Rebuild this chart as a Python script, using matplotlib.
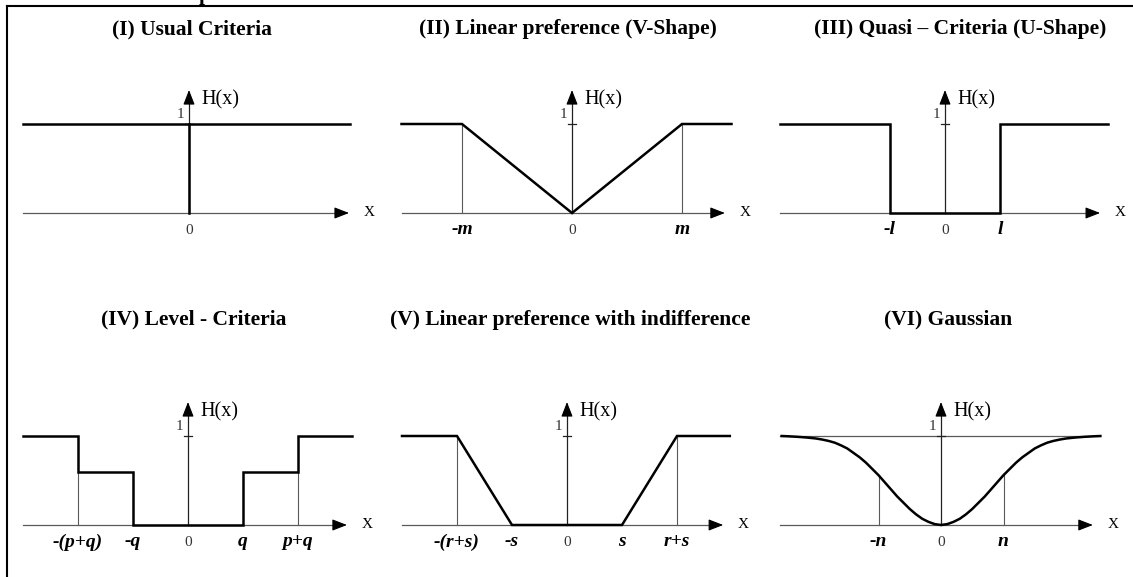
import matplotlib.pyplot as plt
from matplotlib.lines import Line2D

# ----------------------------------------------------------------------------
# data (x in threshold units, H between 0 and 1)
# ----------------------------------------------------------------------------
panel_titles = ['(I) Usual Criteria',
                '(II) Linear preference (V-Shape)',
                '(III) Quasi \u2013 Criteria (U-Shape)',
                '(IV) Level - Criteria',
                '(V) Linear preference with indifference',
                '(VI) Gaussian']

# (I) usual criterion: H = 1 everywhere except at 0
usual_x = [-1.66, 1.61]
usual_h = [1, 1]

# (II) V-shape, m = 1
vshape_x = [-1.55, -1, 0, 1, 1.45]
vshape_h = [1, 1, 0, 1, 1]

# (III) U-shape, l = 1
ushape_x = [-3.0, -1, -1, 1, 1, 2.96]
ushape_h = [1, 1, 0, 0, 1, 1]

# (IV) level criterion, q = 1, p + q = 2
level_x = [-3.0, -2, -2, -1, -1, 1, 1, 2, 2, 2.98]
level_h = [1, 1, 0.6, 0.6, 0, 0, 0.6, 0.6, 1, 1]

# (V) linear with indifference, s = 1, r + s = 2
linind_x = [-3.0, -2, -1, 1, 2, 2.96]
linind_h = [1, 1, 0, 0, 1, 1]

# (VI) gaussian, right half (n = 1)
gauss_x = [0, 0.1, 0.2, 0.3, 0.4, 0.5, 0.6, 0.7, 0.8, 0.9, 1.0, 1.1, 1.2, 1.3,
           1.4, 1.5, 1.6, 1.7, 1.8, 1.9, 2.0, 2.15, 2.3, 2.45, 2.55]
gauss_h = [0, 0.01, 0.035, 0.07, 0.12, 0.18, 0.25, 0.32, 0.40, 0.48, 0.56, 0.63,
           0.70, 0.76, 0.81, 0.86, 0.895, 0.925, 0.945, 0.96, 0.972, 0.983,
           0.991, 0.997, 1.0]

# threshold labels on the x axis
tick_pos = [[], [-1, 1], [-1, 1], [-2, -1, 1, 2], [-2, -1, 1, 2], [-1, 1]]
tick_txt = [[], ['-m', 'm'], ['-l', 'l'], ['-(p+q)', '-q', 'q', 'p+q'],
            ['-(r+s)', '-s', 's', 'r+s'], ['-n', 'n']]

# thin guide lines (x, top height)
guide_x = [[], [-1, 1], [], [-2, 2], [-2, 2], [-1, 1]]
guide_h = [[], [1, 1], [], [0.6, 0.6], [1, 1], [0.56, 0.56]]

# ----------------------------------------------------------------------------
# layout (pixels)
# ----------------------------------------------------------------------------
W, H = 1133, 577
UNIT_Y = 89
cols = [(0, 377), (377, 755), (755, 1133)]
rows = [(0, 287, 213), (287, 577, 525)]   # top, bottom, x axis position
# y axis pixel, px per unit, axis arrow extent
geom = [(189, 100, -1.66, 1.60),
        (572, 110, -1.55, 1.39),
        (945, 55, -3.0, 2.82),
        (188, 55, -3.0, 2.89),
        (567, 55, -3.0, 2.84),
        (941, 62.5, -2.58, 2.43)]
title_px = [(192, 29), (568, 29), (960, 29), (194, 319), (570, 320), (948, 319)]

SERIF = 'Liberation Serif'
BOLD_LW = 1.8
GREY = '#5a5a5a'

fig = plt.figure(figsize=(W / 100, H / 100), dpi=100)
fig.patch.set_facecolor('white')

curves = [(usual_x, usual_h), (vshape_x, vshape_h), (ushape_x, ushape_h),
          (level_x, level_h), (linind_x, linind_h), (None, None)]

for i in range(6):
    L, R = cols[i % 3]
    T, B, base = rows[i // 3]
    x0, sc, a0, a1 = geom[i]
    ax = fig.add_axes([L / W, 1 - B / H, (R - L) / W, (B - T) / H])
    ax.set_xlim((L - x0) / sc, (R - x0) / sc)
    ax.set_ylim((base - B) / UNIT_Y, (base - T) / UNIT_Y)
    ax.set_axis_off()
    dx = 1.0 / sc
    dy = 1.0 / UNIT_Y

    # x axis with arrow
    ax.plot([a0, a1 - 8 * dx], [0, 0], color=GREY, lw=0.9, zorder=1)
    ax.annotate('', xy=(a1, 0), xytext=(a1 - 10 * dx, 0),
                arrowprops=dict(arrowstyle='-|>,head_length=0.9,head_width=0.35',
                                color='k', lw=0.8, shrinkA=0, shrinkB=0))
    ax.text(a1 + 20 * dx, 0, 'X', family=SERIF, fontsize=11, ha='center', va='center')

    # y axis with arrow
    ytop = 123 * dy
    ax.plot([0, 0], [0, ytop - 8 * dy], color='#222222', lw=0.9, zorder=1)
    ax.annotate('', xy=(0, ytop), xytext=(0, ytop - 10 * dy),
                arrowprops=dict(arrowstyle='-|>,head_length=0.9,head_width=0.35',
                                color='k', lw=0.8, shrinkA=0, shrinkB=0))
    ax.text(12 * dx, ytop - 10 * dy, 'H(x)', family=SERIF, fontsize=14.5,
            ha='left', va='center')
    ax.plot([-4 * dx, 4 * dx], [1, 1], color='#222222', lw=0.9)
    ax.text(-9 * dx, 1 + 10 * dy, '1', family=SERIF, fontsize=11, ha='center', va='center',
            color='#333333')
    ax.text(0, -17 * dy, '0', family=SERIF, fontsize=11, ha='center', va='center',
            color='#333333')

    # thin guides
    for gx, gh in zip(guide_x[i], guide_h[i]):
        ax.plot([gx, gx], [0, gh], color=GREY, lw=0.8, zorder=1)

    # threshold labels
    for tx, tt in zip(tick_pos[i], tick_txt[i]):
        ax.text(tx, -17 * dy, tt, family=SERIF, fontsize=14, fontweight='bold',
                style='italic', ha='center', va='center')

    # function
    cx, ch = curves[i]
    if cx is not None:
        ax.plot(cx, ch, color='k', lw=BOLD_LW, solid_joinstyle='miter', zorder=3)
    if i == 0:
        ax.plot([0, 0], [0, 1], color='k', lw=BOLD_LW, zorder=3)
    if i == 5:
        left_x = [-v for v in gauss_x[::-1]]
        left_h = gauss_h[::-1]
        ax.plot([a0, a1 + 7 * dx], [1, 1], color=GREY, lw=0.9, zorder=1)
        ax.plot(left_x + gauss_x[1:], left_h + gauss_h[1:], color='k', lw=BOLD_LW,
                solid_joinstyle='round', zorder=3)

# panel titles
for (tx, ty), title in zip(title_px, panel_titles):
    fig.text(tx / W, 1 - ty / H, title, family=SERIF, fontsize=15.5, fontweight='bold',
             ha='center', va='center')

# clipped caption letter at the very top
fig.text(205 / W, 1.0, 'p', family=SERIF, fontsize=15, fontweight='bold',
         ha='center', va='baseline')

# frame
fig.add_artist(Line2D([7 / W, 1], [1 - 6 / H, 1 - 6 / H], color='k', lw=1.5,
                      transform=fig.transFigure))
fig.add_artist(Line2D([7 / W, 7 / W], [0, 1 - 6 / H], color='k', lw=1.5,
                      transform=fig.transFigure))

fig.savefig('out.png', dpi=100)
